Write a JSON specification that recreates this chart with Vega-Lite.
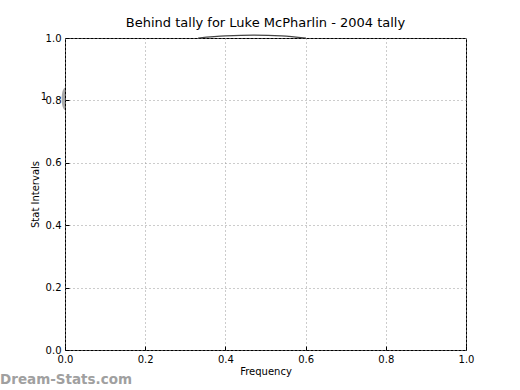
{
  "$schema": "https://vega.github.io/schema/vega-lite/v6.json",
  "width": 401,
  "height": 312,
  "autosize": {"type": "none"},
  "padding": {"left": 65, "top": 38, "right": 54, "bottom": 40},
  "background": "white",
  "title": {"text": "Behind tally for Luke McPharlin - 2004 tally", "fontSize": 13, "font": "DejaVu Sans", "fontWeight": "normal", "color": "black", "offset": 3},
  "config": {
    "view": {"stroke": "black", "strokeWidth": 1},
    "axis": {
      "labelFont": "DejaVu Sans", "labelFontSize": 10, "labelColor": "black", "labelFlush": false,
      "titleFont": "DejaVu Sans", "titleFontSize": 10, "titleFontWeight": "normal", "titleColor": "black",
      "domain": false, "tickColor": "black", "tickSize": -4, "labelPadding": 8,
      "grid": true, "gridColor": "#999999", "gridDash": [1, 3], "gridWidth": 1
    }
  },
  "datasets": {
    "arc": [
      {"freq": 0.332, "val": 1.0},
      {"freq": 0.40, "val": 1.0065},
      {"freq": 0.47, "val": 1.0095},
      {"freq": 0.54, "val": 1.007},
      {"freq": 0.601, "val": 1.0}
    ],
    "wedge": [{"freq": 0, "val": 0.805, "label": "1"}],
    "mark": [{"site": "Dream-Stats.com"}]
  },
  "layer": [
    {
      "data": {"name": "arc"},
      "mark": {"type": "line", "color": "#444444", "strokeWidth": 1.2, "interpolate": "monotone", "clip": false},
      "encoding": {
        "x": {"field": "freq", "type": "quantitative", "scale": {"domain": [0, 1], "nice": false},
              "axis": {"title": "Frequency", "values": [0, 0.2, 0.4, 0.6, 0.8, 1.0], "format": ".1f", "titlePadding": 2}},
        "y": {"field": "val", "type": "quantitative", "scale": {"domain": [0, 1], "nice": false},
              "axis": {"title": "Stat Intervals", "values": [0, 0.2, 0.4, 0.6, 0.8, 1.0], "format": ".1f", "titlePadding": 5}}
      }
    },
    {
      "data": {"name": "wedge"},
      "mark": {"type": "point", "shape": "M0,-1 A0.3,1 0 0,0 0,1 Z", "filled": true, "color": "#aaaaaa", "opacity": 1, "size": 500, "clip": false},
      "encoding": {
        "x": {"field": "freq", "type": "quantitative"},
        "y": {"field": "val", "type": "quantitative"}
      }
    },
    {
      "data": {"name": "wedge"},
      "mark": {"type": "text", "font": "DejaVu Sans", "fontSize": 10, "color": "black", "dx": -21, "dy": -2, "clip": false},
      "encoding": {
        "x": {"field": "freq", "type": "quantitative"},
        "y": {"field": "val", "type": "quantitative"},
        "text": {"field": "label"}
      }
    },
    {
      "data": {"name": "mark"},
      "mark": {"type": "text", "font": "DejaVu Sans", "fontSize": 13.5, "fontWeight": "bold", "color": "#a0a0a0", "align": "left", "baseline": "middle", "clip": false},
      "encoding": {
        "x": {"datum": -0.162, "type": "quantitative"},
        "y": {"datum": -0.096, "type": "quantitative"},
        "text": {"field": "site"}
      }
    }
  ]
}
